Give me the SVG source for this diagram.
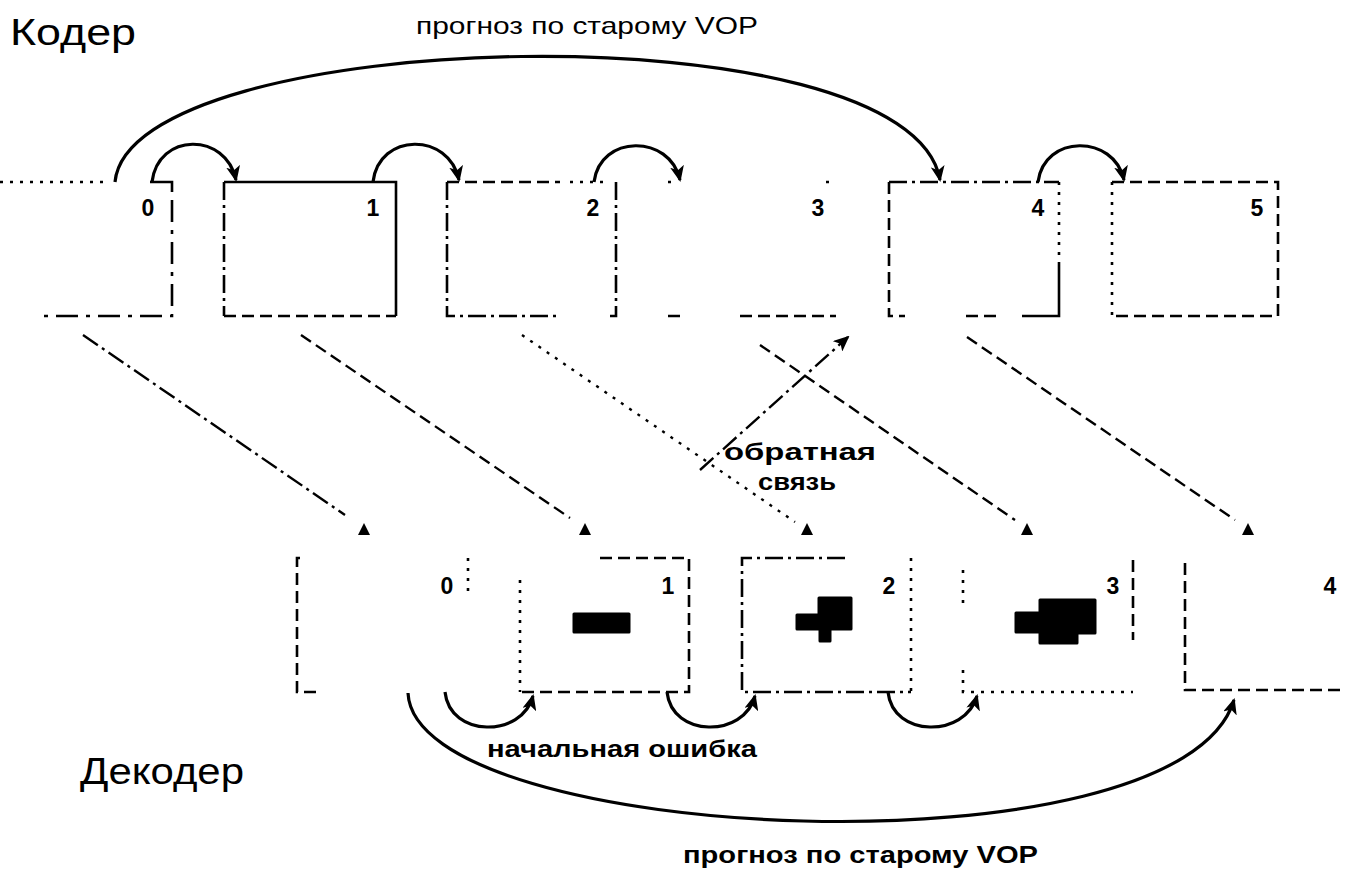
<svg xmlns="http://www.w3.org/2000/svg" width="1345" height="869" viewBox="0 0 1345 869">
<defs>
<style>
.e{fill:none;stroke:#000;stroke-width:2.6;stroke-linecap:butt}
.s{stroke-dasharray:none}
.d1{stroke-dasharray:18 5 3 5}
.d2{stroke-dasharray:12 6}
.d3{stroke-dasharray:3 7}
.d4{stroke-dasharray:22 8 4 8}
.arc{fill:none;stroke:#000;stroke-width:3.2}
.diag{fill:none;stroke:#000;stroke-width:2.4}
.t{font-family:"Liberation Sans",Arial,sans-serif;fill:#000}
.big{font-size:37px}
.top{font-size:24px}
.lab{font-size:24px;font-weight:bold}
.num{font-size:23px;font-weight:bold;text-anchor:middle}
.tri{fill:#000}
.blob{fill:#000;stroke:#000;stroke-width:3;stroke-linejoin:round}
</style>
<marker id="ah" viewBox="0 0 16 14" refX="14" refY="7" markerWidth="16" markerHeight="14" markerUnits="userSpaceOnUse" orient="auto">
<path d="M0,0 L16,7 L0,14 L4,7 z" fill="#000"/>
</marker>
</defs>
<rect width="1345" height="869" fill="#fff"/>

<text class="t big" x="10" y="45" textLength="126" lengthAdjust="spacingAndGlyphs">Кодер</text>
<text class="t top" x="416" y="34" textLength="342" lengthAdjust="spacingAndGlyphs">прогноз по старому VOP</text>
<text class="t big" x="80" y="784" textLength="164" lengthAdjust="spacingAndGlyphs">Декодер</text>
<text class="t lab" x="487" y="757" textLength="270" lengthAdjust="spacingAndGlyphs">начальная ошибка</text>
<text class="t lab" x="683" y="863" textLength="355" lengthAdjust="spacingAndGlyphs">прогноз по старому VOP</text>
<text class="t lab" x="724" y="460" textLength="152" lengthAdjust="spacingAndGlyphs">обратная</text>
<text class="t lab" x="758" y="490" textLength="78" lengthAdjust="spacingAndGlyphs">связь</text>

<g id="enc0">
<path class="e d3" d="M0,182 H110"/>
<path class="e s" d="M150,182 H172 V192"/>
<path class="e d4" d="M172,200 V316 H42"/>
<text class="t num" x="148" y="216">0</text>
</g>
<g id="enc1">
<path class="e s" d="M224,182 H396 V316"/>
<path class="e d1" d="M224,182 V316"/>
<path class="e d2" d="M224,316 H396"/>
<text class="t num" x="373" y="216">1</text>
</g>
<g id="enc2">
<path class="e d2" d="M447,182 H560"/>
<path class="e d3" d="M570,182 H605"/>
<path class="e d1" d="M447,182 V316 H560"/>
<path class="e d1" d="M616,182 V316 H610"/>
<text class="t num" x="593" y="216">2</text>
</g>
<g id="enc3">
<path class="e d3" d="M668,182 H672 M826,182 H836"/>
<path class="e d2" d="M668,316 H685 M740,316 H836"/>
<text class="t num" x="818" y="216">3</text>
</g>
<g id="enc4">
<path class="e d1" d="M889,182 H1059"/>
<path class="e d2" d="M889,182 V316 H905"/>
<path class="e d3" d="M1059,182 V262"/>
<path class="e s" d="M1059,262 V316 H1022"/>
<path class="e d2" d="M996,316 H960"/>
<text class="t num" x="1038" y="216">4</text>
</g>
<g id="enc5">
<path class="e d2" d="M1112,182 H1278 V316 H1112"/>
<path class="e d3" d="M1112,182 V316"/>
<text class="t num" x="1257" y="216">5</text>
</g>

<g id="dec0">
<path class="e d2" d="M300,558 H297 V692 H322"/>
<path class="e d3" d="M468,558 V598"/>
<text class="t num" x="447" y="594">0</text>
</g>
<g id="dec1">
<path class="e d2" d="M600,558 H689 V692 H520"/>
<path class="e d3" d="M520,580 V692"/>
<path class="blob" d="M574,614 H629 V632 H574 z"/>
<text class="t num" x="668" y="594">1</text>
</g>
<g id="dec2">
<path class="e d1" d="M845,558 H742 V692 H911"/>
<path class="e d3" d="M911,558 V692"/>
<path class="blob" d="M819,598 H851 V629 H830 V641 H820 V629 H797 V615 H819 z"/>
<text class="t num" x="889" y="594">2</text>
</g>
<g id="dec3">
<path class="e d3" d="M963,570 V605 M963,670 V692 H1133"/>
<path class="e d2" d="M1133,560 V640"/>
<path class="blob" d="M1040,600 H1095 V633 H1077 V643 H1040 V632 H1016 V613 H1040 z"/>
<text class="t num" x="1113" y="594">3</text>
</g>
<g id="dec4">
<path class="e d2" d="M1185,563 V690 H1345"/>
<text class="t num" x="1330" y="594">4</text>
</g>

<g id="connectors">
<path class="arc" d="M115,182 C130,25 910,5 940,180" marker-end="url(#ah)"/>
<path class="arc" d="M152,182 C158,132 226,132 236,180" marker-end="url(#ah)"/>
<path class="arc" d="M373,182 C379,132 449,132 459,180" marker-end="url(#ah)"/>
<path class="arc" d="M594,182 C600,134 670,134 680,180" marker-end="url(#ah)"/>
<path class="arc" d="M1038,182 C1044,134 1114,134 1124,180" marker-end="url(#ah)"/>

<path class="arc" d="M408,693 C415,845 1180,880 1234,700" marker-end="url(#ah)"/>
<path class="arc" d="M445,692 C450,738 522,738 533,696" marker-end="url(#ah)"/>
<path class="arc" d="M667,692 C672,738 744,738 755,696" marker-end="url(#ah)"/>
<path class="arc" d="M888,692 C893,738 965,738 977,696" marker-end="url(#ah)"/>

<path class="diag d1" d="M83,335 L345,515"/>
<path class="diag d2" d="M301,335 L570,518"/>
<path class="diag d3" d="M522,335 L795,522"/>
<path class="diag d2" d="M760,345 L1015,520"/>
<path class="diag d2" d="M967,337 L1235,520"/>
<path class="diag d1" d="M700,470 L848,337" marker-end="url(#ah)"/>

<polygon class="tri" points="364,523 358,535 370,535"/>
<polygon class="tri" points="585,523 579,535 591,535"/>
<polygon class="tri" points="807,523 801,535 813,535"/>
<polygon class="tri" points="1027,523 1021,535 1033,535"/>
<polygon class="tri" points="1248,523 1242,535 1254,535"/>
</g>
</svg>
